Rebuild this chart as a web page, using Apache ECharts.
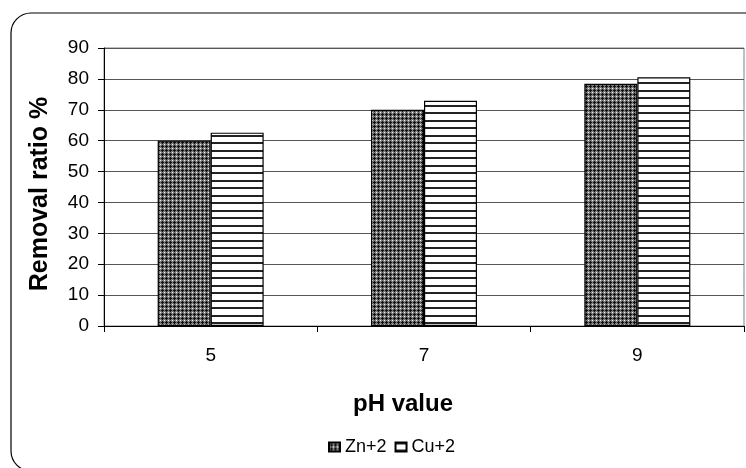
<!DOCTYPE html>
<html>
<head>
<meta charset="utf-8">
<script src="https://cdn.jsdelivr.net/npm/echarts@6/dist/echarts.min.js"></script>
<style>
  html, body { margin: 0; padding: 0; background: #fff; }
  #main { width: 746px; height: 468px; }
</style>
</head>
<body>
<div id="main"></div>
<script>
var categories = ['5', '7', '9'];
var znValues = [60, 70, 78.4];
var cuValues = [62.6, 72.9, 80.5];
var seriesNames = ['Zn+2', 'Cu+2'];

// crosshatch fill for Zn+2
function makeZnPattern() {
  var c = document.createElement('canvas');
  c.width = 4; c.height = 4;
  var ctx = c.getContext('2d');
  ctx.fillStyle = '#7a7a7a';
  ctx.fillRect(0, 0, 4, 4);
  ctx.fillStyle = '#111';
  ctx.fillRect(2, 1, 1, 3);
  ctx.fillRect(1, 2, 3, 1);
  ctx.fillStyle = '#f2f2f2';
  ctx.fillRect(0, 0, 1, 1);
  return c;
}

// horizontal lines fill for Cu+2
function makeCuPattern() {
  var c = document.createElement('canvas');
  c.width = 4; c.height = 15;
  var ctx = c.getContext('2d');
  ctx.fillStyle = '#fff';
  ctx.fillRect(0, 0, 4, 15);
  ctx.fillStyle = '#222';
  ctx.fillRect(0, 0, 4, 2);
  ctx.fillRect(0, 7, 4, 2);
  return c;
}

var chartDom = document.getElementById('main');
var myChart = echarts.init(chartDom);
var option;

option = {
  animation: false,
  textStyle: { fontFamily: 'Liberation Sans' },
  graphic: [
    {
      type: 'rect',
      shape: { x: 11, y: 13, width: 760, height: 458, r: 20 },
      style: { fill: 'none', stroke: '#000', lineWidth: 1.2 },
      silent: true
    }
  ],
  legend: {
    data: seriesNames,
    left: 323,
    top: 433,
    itemWidth: 11,
    itemHeight: 9,
    itemGap: 8,
    icon: 'rect',
    textStyle: { fontSize: 18, color: '#000' }
  },
  grid: {
    left: 104,
    right: 2,
    top: 48,
    bottom: 142,
    show: true,
    borderColor: '#808080',
    borderWidth: 1
  },
  xAxis: {
    type: 'category',
    data: categories,
    name: 'pH value',
    nameLocation: 'middle',
    nameGap: 66,
    nameTextStyle: { fontSize: 24, fontWeight: 'bold', color: '#000', padding: [0, 42, 0, 0] },
    axisLine: { lineStyle: { color: '#000', width: 1 } },
    axisTick: { show: true, length: 6, lineStyle: { color: '#000' } },
    axisLabel: { fontSize: 19, color: '#000', margin: 20 }
  },
  yAxis: {
    type: 'value',
    min: 0,
    max: 90,
    interval: 10,
    name: 'Removal ratio %',
    nameLocation: 'middle',
    nameGap: 51,
    nameTextStyle: { fontSize: 25, fontWeight: 'bold', color: '#000', padding: [0, 14, 0, 0] },
    axisLine: { show: true, lineStyle: { color: '#000', width: 1 } },
    axisTick: { show: true, length: 6, lineStyle: { color: '#000' } },
    axisLabel: { fontSize: 19, color: '#000', margin: 15 },
    splitLine: { lineStyle: { color: '#555', width: 1 } }
  },
  series: [
    {
      name: seriesNames[0],
      type: 'bar',
      data: znValues,
      barWidth: 53,
      barGap: '0%',
      itemStyle: {
        color: { image: makeZnPattern(), repeat: 'repeat' },
        borderColor: '#000',
        borderWidth: 1.2
      }
    },
    {
      name: seriesNames[1],
      type: 'bar',
      data: cuValues,
      barWidth: 53,
      barGap: '0%',
      itemStyle: {
        color: { image: makeCuPattern(), repeat: 'repeat' },
        borderColor: '#000',
        borderWidth: 1.2
      }
    }
  ]
};

option && myChart.setOption(option);
</script>
</body>
</html>
